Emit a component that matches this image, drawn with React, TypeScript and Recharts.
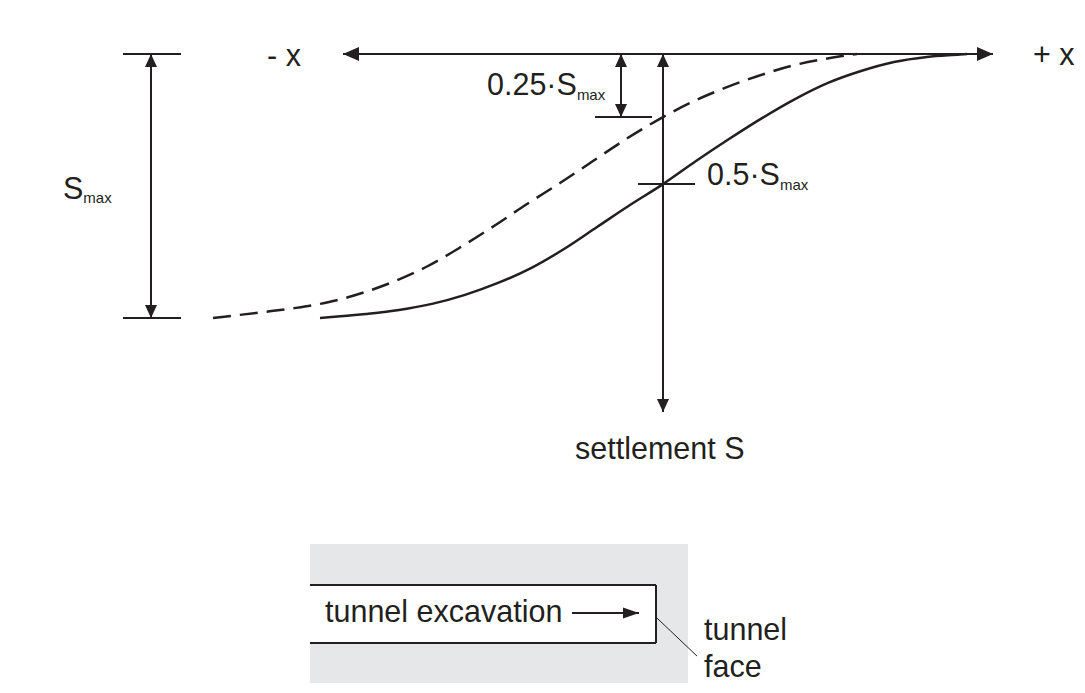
import {
  LineChart,
  Line,
  XAxis,
  YAxis,
  ReferenceLine,
  ReferenceArea,
  ReferenceDot,
} from "recharts";

// x: horizontal distance from the measuring point, s: settlement as a fraction of Smax
const solidX = [-3.43, -2.97, -2.64, -2.31, -1.98, -1.65, -1.32, -0.99, -0.66, -0.33, 0, 0.33, 0.66, 0.99, 1.32, 1.65, 1.98, 2.31, 2.64, 2.97, 3.04];
const solidS = [0.996, 0.981, 0.966, 0.943, 0.909, 0.864, 0.808, 0.736, 0.653, 0.57, 0.491, 0.404, 0.321, 0.242, 0.17, 0.109, 0.064, 0.03, 0.011, 0.002, 0];

const dashedX = [-4.5, -4.0, -3.67, -3.34, -3.01, -2.68, -2.35, -2.02, -1.69, -1.36, -1.03, -0.7, -0.37, 0, 0.29, 0.62, 0.95, 1.28, 1.61, 1.94];
const dashedS = [0.996, 0.974, 0.958, 0.936, 0.902, 0.857, 0.8, 0.728, 0.649, 0.566, 0.487, 0.404, 0.321, 0.238, 0.181, 0.128, 0.083, 0.045, 0.019, 0];

const solidData = solidX.map((x, i) => ({ x, s: solidS[i] }));
const dashedData = dashedX.map((x, i) => ({ x, s: dashedS[i] }));

const INK = "#231f20";
const FONT = "'Liberation Sans', Arial, Helvetica, sans-serif";

type Heads = "start" | "end" | "both" | "none";

// line drawn from the reference segment, with optional filled arrow heads
const arrow =
  (heads: Heads, len = 13, half = 6, width = 2) =>
  (p: any) => {
    const { x1, y1, x2, y2 } = p;
    const dx = x2 - x1;
    const dy = y2 - y1;
    const L = Math.hypot(dx, dy) || 1;
    const ux = dx / L;
    const uy = dy / L;
    const head = (tx: number, ty: number, dx: number, dy: number) => {
      const bx = tx - dx * len;
      const by = ty - dy * len;
      return `${tx},${ty} ${bx - dy * half},${by + dx * half} ${bx + dy * half},${by - dx * half}`;
    };
    return (
      <g>
        <line x1={x1} y1={y1} x2={x2} y2={y2} stroke={INK} strokeWidth={width} />
        {(heads === "end" || heads === "both") && <polygon points={head(x2, y2, ux, uy)} fill={INK} />}
        {(heads === "start" || heads === "both") && <polygon points={head(x1, y1, -ux, -uy)} fill={INK} />}
      </g>
    );
  };

const label =
  (main: string, sub?: string, subDy = 5) =>
  (p: any) => (
    <text x={p.cx} y={p.cy} fill={INK} fontFamily={FONT} fontSize={30.5}>
      <tspan>{main}</tspan>
      {sub ? (
        <tspan dy={subDy} fontSize={15}>
          {sub}
        </tspan>
      ) : null}
    </text>
  );

const seg = (xa: number, ya: number, xb: number, yb: number) => [
  { x: xa, y: ya },
  { x: xb, y: yb },
];

export default function App() {
  return (
    <div style={{ position: "absolute", left: 0, top: 0, width: 1085, height: 693, background: "#fff" }}>
      <LineChart width={1085} height={693} margin={{ top: 0, right: 0, bottom: 0, left: 0 }}>
        <XAxis type="number" dataKey="x" domain={[-6.63, 4.22]} allowDataOverflow hide />
        <YAxis type="number" dataKey="s" domain={[-0.20377, 2.41132]} reversed allowDataOverflow hide />

        {/* tunnel sketch */}
        <ReferenceArea x1={-3.53} x2={0.25} y1={1.849} y2={2.374} fill="#e6e7e8" fillOpacity={1} stroke="none" />
        <ReferenceArea x1={-3.53} x2={-0.07} y1={2.004} y2={2.223} fill="#ffffff" fillOpacity={1} stroke="none" />
        <ReferenceLine segment={seg(-3.53, 2.004, -0.07, 2.004)} shape={arrow("none")} />
        <ReferenceLine segment={seg(-3.53, 2.223, -0.07, 2.223)} shape={arrow("none")} />
        <ReferenceLine segment={seg(-0.07, 2.004, -0.07, 2.223)} shape={arrow("none")} />
        <ReferenceLine segment={seg(-0.91, 2.109, -0.24, 2.109)} shape={arrow("end", 16, 5.5, 2)} />
        <ReferenceLine segment={seg(-0.07, 2.125, 0.34, 2.272)} shape={arrow("none", 0, 0, 1)} />

        {/* axes of the settlement trough */}
        <ReferenceLine segment={seg(-3.2, 0, 3.3, 0)} shape={arrow("both", 16, 7, 2)} />
        <ReferenceLine segment={seg(0, 0, 0, 1.351)} shape={arrow("both", 13, 6, 2)} />

        {/* Smax dimension */}
        <ReferenceLine segment={seg(-5.4, 0, -4.82, 0)} shape={arrow("none")} />
        <ReferenceLine segment={seg(-5.4, 0.996, -4.82, 0.996)} shape={arrow("none")} />
        <ReferenceLine segment={seg(-5.12, 0, -5.12, 0.996)} shape={arrow("both", 13, 6, 2)} />

        {/* 0.25 and 0.5 Smax marks */}
        <ReferenceLine segment={seg(-0.42, 0, -0.42, 0.238)} shape={arrow("both", 13, 6, 2)} />
        <ReferenceLine segment={seg(-0.68, 0.238, -0.11, 0.238)} shape={arrow("none")} />
        <ReferenceLine segment={seg(-0.25, 0.491, 0.32, 0.491)} shape={arrow("none")} />

        <Line
          data={dashedData}
          dataKey="s"
          type="monotone"
          stroke={INK}
          strokeWidth={2.5}
          strokeDasharray="18 9"
          dot={false}
          activeDot={false}
          isAnimationActive={false}
        />
        <Line
          data={solidData}
          dataKey="s"
          type="monotone"
          stroke={INK}
          strokeWidth={2.5}
          dot={false}
          activeDot={false}
          isAnimationActive={false}
        />

        {/* texts */}
        <ReferenceDot x={-3.96} y={0.045} r={0} shape={label("- x")} />
        <ReferenceDot x={3.7} y={0.042} r={0} shape={label("+ x")} />
        <ReferenceDot x={-1.76} y={0.155} r={0} shape={label("0.25·S", "max")} />
        <ReferenceDot x={0.44} y={0.494} r={0} shape={label("0.5·S", "max")} />
        <ReferenceDot x={-6.0} y={0.547} r={0} shape={label("S", "max", 4)} />
        <ReferenceDot x={-0.88} y={1.528} r={0} shape={label("settlement S")} />
        <ReferenceDot x={-3.38} y={2.143} r={0} shape={label("tunnel excavation")} />
        <ReferenceDot x={0.41} y={2.211} r={0} shape={label("tunnel")} />
        <ReferenceDot x={0.41} y={2.351} r={0} shape={label("face")} />
      </LineChart>
    </div>
  );
}
